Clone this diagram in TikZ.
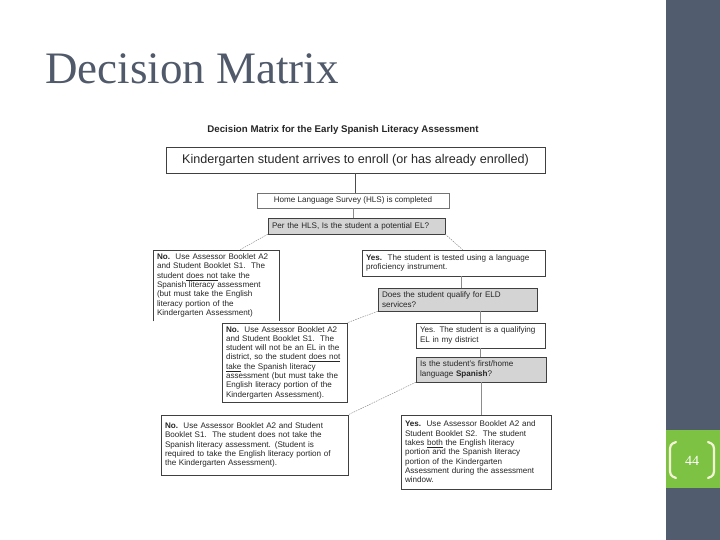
\documentclass[tikz,border=0pt]{standalone}
\usepackage{fontspec}
\setmainfont{Liberation Sans}
\newfontfamily\titlefont{Liberation Serif}
\usetikzlibrary{shadows,calc}
\definecolor{slate}{RGB}{81,92,110}
\definecolor{titlecol}{RGB}{80,90,106}
\definecolor{greenbar}{RGB}{125,194,66}
\definecolor{bracketcol}{RGB}{245,243,215}
\definecolor{boxgray}{RGB}{212,212,212}
\definecolor{linegray}{RGB}{140,140,140}
\begin{document}
\begin{tikzpicture}[x=1pt,y=-1pt,
  box/.style={draw=black!75, line width=0.5pt, inner xsep=4pt, inner ysep=1pt,
    font=\fontsize{8.1}{9.3}\selectfont, align=left, text=black!85},
  graybox/.style={box, fill=boxgray},
  conn/.style={draw=linegray, line width=0.5pt},
  dconn/.style={conn, dash pattern=on 1.5pt off 1pt},
  shad/.style={fill=white, drop shadow={shadow xshift=1.2pt, shadow yshift=-1.2pt, fill=black!55}}]
\useasboundingbox (0,0) rectangle (720,540);
% sidebar
\fill[slate] (666,0) rectangle (720,540);
\fill[greenbar] (666,430) rectangle (720,488);
\draw[bracketcol, line width=2.2pt, line cap=round] (676,442) .. controls (670,444) and (670,446) .. (670,452) -- (670,468) .. controls (670,474) and (670,476) .. (676,478);
\draw[bracketcol, line width=2.2pt, line cap=round] (708,442) .. controls (714,444) and (714,446) .. (714,452) -- (714,468) .. controls (714,474) and (714,476) .. (708,478);
\node[text=white, font=\titlefont\fontsize{14}{16}\selectfont] (pg) at (692,461) {44};
% title
\node[font=\titlefont\fontsize{45}{50}\selectfont, text=titlecol, anchor=base west, inner sep=0] (title) at (45,84) {Decision Matrix};
% header
\node[font=\bfseries\fontsize{9.7}{11}\selectfont, anchor=base, text=black!85] (hdr) at (343,132.5) {Decision Matrix for the Early Spanish Literacy Assessment};
% boxes
\node[box, minimum width=379pt, minimum height=26pt, align=center, font=\fontsize{12.6}{14}\selectfont] (b1) at (355.5,160) {Kindergarten student arrives to enroll (or has already enrolled)};
\node[box, draw=black!55, minimum width=192pt, minimum height=15pt, align=center] (b2) at (353,200.5) {Home Language Survey (HLS) is completed};
\node[graybox, minimum width=177pt, minimum height=16pt, text width=169pt] (b3) at (356.5,226) {Per the HLS, Is the student a potential EL?};
\node[box, draw=none, minimum width=126pt, minimum height=71pt, text width=118pt] (b4) at (216,285.5) {\textbf{No.}\ \ Use Assessor Booklet A2\\and Student Booklet S1.\ \ The\\student \underline{does not} take the\\Spanish literacy assessment\\(but must take the English\\literacy portion of the\\Kindergarten Assessment)};
\draw[black!75, line width=0.5pt] (b4.south west) -- (b4.north west) -- (b4.north east) -- (b4.south east);
\node[box, minimum width=183pt, minimum height=26pt, text width=175pt] (b6) at (453.5,263) {\textbf{Yes.}\ \ The student is tested using a language\\proficiency instrument.};
\node[graybox, minimum width=159pt, minimum height=23pt, text width=151pt] (b7) at (457.5,299.5) {Does the student qualify for ELD\\services?};
\node[box, minimum width=125pt, minimum height=79pt, text width=117pt] (b5) at (284.5,362.5) {\textbf{No.}\ \ Use Assessor Booklet A2\\and Student Booklet S1.\ \ The\\student will not be an EL in the\\district, so the student \underline{does not}\\\underline{take} the Spanish literacy\\assessment (but must take the\\English literacy portion of the\\Kindergarten Assessment).};
\node[box, minimum width=129pt, minimum height=25pt, text width=121pt] (b8) at (480.5,335.5) {Yes. The student is a qualifying\\EL in my district};
\node[graybox, minimum width=130pt, minimum height=25pt, text width=122pt] (b9) at (481,369.5) {Is the student's first/home\\language \textbf{Spanish}?};
\node[box, shad, minimum width=187pt, minimum height=60pt, text width=179pt] (b10) at (254.5,445) {\textbf{No.}\ \ Use Assessor Booklet A2 and Student\\Booklet S1.\ \ The student does not take the\\Spanish literacy assessment. (Student is\\required to take the English literacy portion of\\the Kindergarten Assessment).};
\node[box, shad, minimum width=150pt, minimum height=74pt, text width=142pt] (b11) at (476,452) {\textbf{Yes.}\ \ Use Assessor Booklet A2 and\\Student Booklet S2.\ \ The student\\takes \underline{both} the English literacy\\portion and the Spanish literacy\\portion of the Kindergarten\\Assessment during the assessment\\window.};
% connectors
\draw[conn, draw=black!70] (b1.south) -- (b1.south |- b2.north);
\draw[conn] (b2.south) -- (b2.south |- b3.north);
\draw[dconn] (b3.south west) -- ($(b4.north west)!0.69!(b4.north east)$);
\draw[dconn] (b3.south east) -- ($(b6.north west)!0.55!(b6.north east)$);
\coordinate (v1) at ($(b6.south west)!0.54!(b6.south east)$);
\draw[conn] (v1) -- (v1 |- b7.north);
\draw[dconn] (b7.south west) -- (b5.north east);
\draw[conn] (b8.north) -- (b8.north |- b7.south);
\draw[conn] (b8.south) -- (b8.south |- b9.north);
\draw[conn] (b9.south) -- (b9.south |- b11.north);
\draw[dconn] (b9.south west) -- (b10.north east);
\end{tikzpicture}
\end{document}
